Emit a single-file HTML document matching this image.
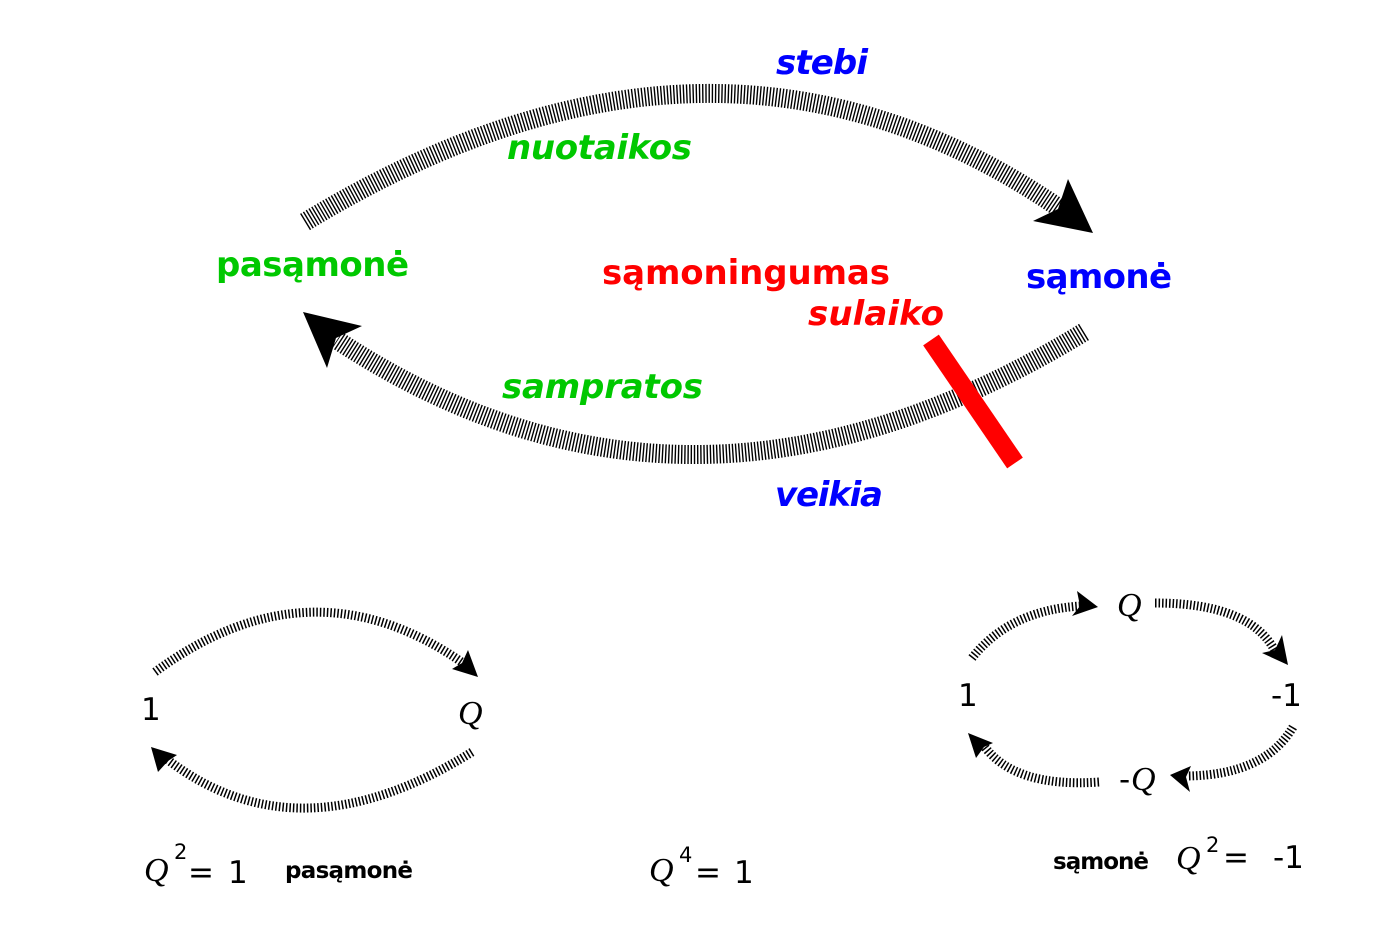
<!DOCTYPE html>
<html>
<head>
<meta charset="utf-8">
<style>
  html,body{margin:0;padding:0;background:#fff;}
  svg{display:block;}
  .lb{font-family:"DejaVu Sans","Liberation Sans",sans-serif;font-weight:bold;}
  .it{font-style:italic;}
  .q{font-family:"Liberation Serif",serif;font-style:italic;}
  .d{font-family:"DejaVu Sans","Liberation Sans",sans-serif;}
</style>
</head>
<body>
<svg width="1384" height="936" viewBox="0 0 1384 936" xmlns="http://www.w3.org/2000/svg">
  <rect width="1384" height="936" fill="#fff"/>

  <!-- big hatched arcs -->
  <g fill="none" stroke="#000" stroke-dasharray="1.4 1.8">
    <path d="M305,222 Q717,-29 1062,210" stroke-width="19"/>
    <path d="M1084,332 Q690,573 337,340" stroke-width="19"/>
  </g>
  <polygon points="1093,233 1068,179 1058,209 1033,221" fill="#000"/>
  <polygon points="303,312 362,326 336,338 327,368" fill="#000"/>

  <!-- red bar -->
  <line x1="931" y1="340" x2="1015" y2="463" stroke="#ff0000" stroke-width="19"/>

  <!-- labels -->
  <text class="lb it" x="776" y="74" font-size="34" fill="#0000ff" textLength="92">stebi</text>
  <text class="lb it" x="507" y="159" font-size="34" fill="#00c800" textLength="185">nuotaikos</text>
  <text class="lb" x="216" y="276" font-size="34" fill="#00c800" textLength="193">pasąmonė</text>
  <text class="lb" x="602" y="284" font-size="34" fill="#ff0000" textLength="288">sąmoningumas</text>
  <text class="lb" x="1026" y="288" font-size="34" fill="#0000ff" textLength="146">sąmonė</text>
  <text class="lb it" x="808" y="325" font-size="34" fill="#ff0000" textLength="136">sulaiko</text>
  <text class="lb it" x="502" y="398" font-size="34" fill="#00c800" textLength="201">sampratos</text>
  <text class="lb it" x="775" y="506" font-size="34" fill="#0000ff" textLength="108">veikia</text>

  <!-- left small diagram -->
  <g fill="none" stroke="#000" stroke-dasharray="1.5 2" stroke-width="9">
    <path d="M155,672 Q311,557 463,663"/>
    <path d="M472,752 Q299,860 168,760"/>
  </g>
  <polygon points="478,677 468,650 462,663 452,669" fill="#000"/>
  <polygon points="151,747 177,755 168,761 158,772" fill="#000"/>
  <text class="d" x="141" y="720" font-size="31" fill="#000">1</text>
  <text class="q" x="458" y="724" font-size="34" fill="#000">Q</text>

  <!-- right small diagram -->
  <g fill="none" stroke="#000" stroke-dasharray="1.5 2" stroke-width="9">
    <path d="M972,658 Q1010,610 1081,606"/>
    <path d="M1155,603 Q1250,603 1275,651"/>
    <path d="M1293,727 Q1265,775 1187,776"/>
    <path d="M1099,782 Q1015,788 984,746"/>
  </g>
  <polygon points="1098,607 1077,591 1080,606 1072,616" fill="#000"/>
  <polygon points="1288,665 1282,635 1275,650 1262,653" fill="#000"/>
  <polygon points="1170,775 1191,766 1186,777 1190,792" fill="#000"/>
  <polygon points="968,733 993,743 984,747 976,758" fill="#000"/>
  <text class="q" x="1117" y="616" font-size="34" fill="#000">Q</text>
  <text class="d" x="958" y="706" font-size="31" fill="#000">1</text>
  <text class="d" x="1271" y="706" font-size="31" fill="#000">-1</text>
  <text class="d" x="1119" y="790" font-size="31" fill="#000">-</text>
  <text class="q" x="1131" y="790" font-size="34" fill="#000">Q</text>

  <!-- equations -->
  <text class="q" x="144" y="881" font-size="34" fill="#000">Q</text>
  <text class="d" x="174" y="859" font-size="21" fill="#000">2</text>
  <text class="d" x="188" y="883" font-size="31" fill="#000" textLength="24">=</text>
  <text class="d" x="228" y="883" font-size="31" fill="#000">1</text>
  <text class="lb" x="285" y="878" font-size="23" fill="#000" textLength="128">pasąmonė</text>

  <text class="q" x="649" y="881" font-size="34" fill="#000">Q</text>
  <text class="d" x="679" y="862" font-size="21" fill="#000">4</text>
  <text class="d" x="695" y="883" font-size="31" fill="#000" textLength="24">=</text>
  <text class="d" x="734" y="883" font-size="31" fill="#000">1</text>

  <text class="lb" x="1053" y="869" font-size="23" fill="#000" textLength="96">sąmonė</text>
  <text class="q" x="1176" y="869" font-size="34" fill="#000">Q</text>
  <text class="d" x="1206" y="852" font-size="21" fill="#000">2</text>
  <text class="d" x="1223" y="868" font-size="31" fill="#000" textLength="22">=</text>
  <text class="d" x="1273" y="868" font-size="31" fill="#000">-1</text>
</svg>
</body>
</html>
